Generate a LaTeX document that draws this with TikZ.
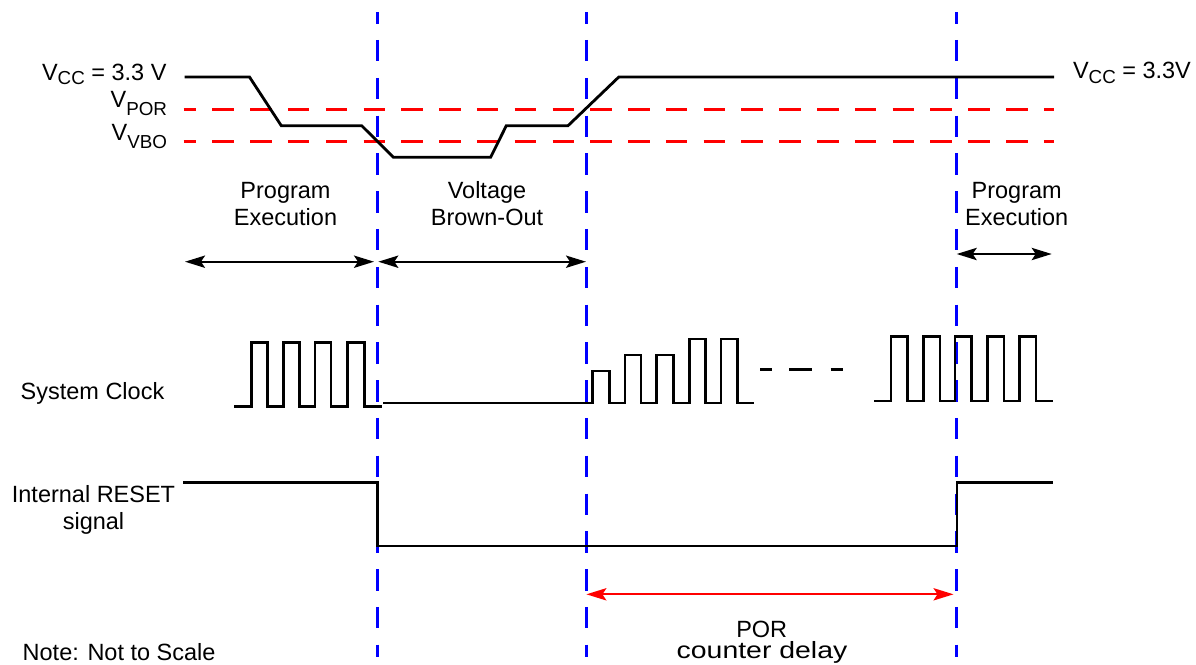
\documentclass[tikz,border=0pt]{standalone}
\usepackage{fontspec}
\setmainfont{Liberation Sans}
\usetikzlibrary{arrows.meta}
\newcommand{\sbs}[2]{\raisebox{-#2}{\fontsize{10.7}{12}\selectfont #1}}
\begin{document}
\begin{tikzpicture}[x=0.02cm,y=-0.02cm,
  every node/.style={inner sep=0pt, outer sep=0pt, font=\fontsize{13.37}{15.2}\selectfont},
  sig/.style={line width=1.6pt, line join=miter},
  guide/.style={blue, line width=1.71pt, dash pattern=on 12.23pt off 9.28pt, dash phase=5.58pt},
  level/.style={red, line width=1.71pt, dash pattern=on 12.23pt off 9.28pt, dash phase=5.18pt},
  span/.style={line width=1.14pt, {Stealth[length=11.4pt,width=7pt,inset=2.3pt]}-{Stealth[length=11.4pt,width=7pt,inset=2.3pt]}},
  lbl/.style={align=center}
]
\useasboundingbox (0,0) rectangle (1196,664);

% guide lines
\coordinate (g1t) at (377,12);   \coordinate (g1b) at (377,657);
\coordinate (g2t) at (586.4,12); \coordinate (g2b) at (586.4,657);
\coordinate (g3t) at (956.5,12); \coordinate (g3b) at (956.5,657);
\draw[guide] (g1t) -- (g1b);
\draw[guide] (g2t) -- (g2b);
\draw[guide] (g3t) -- (g3b);

% threshold levels
\coordinate (porL) at (183.7,109.3); \coordinate (porR) at (1054,109.3);
\coordinate (vboL) at (183.7,141);   \coordinate (vboR) at (1054,141);
\draw[level] (porL) -- (porR);
\draw[level] (vboL) -- (vboR);

% supply voltage
\draw[sig] (184.5,77) -- (249.5,77) -- (281.3,125.7) -- (361.7,125.7) -- (393.4,157.3)
  -- (490.6,157.3) -- (506.3,125.7) -- (568,125.7) -- (618.8,77) -- (1054,77);

% labels of levels
\node[anchor=base east] (vccl) at (166.5,80) {V\sbs{CC}{2.3pt} = 3.3 V};
\node[anchor=base east] (vporl) at (167,107.3) {V\sbs{POR}{4.6pt}};
\node[anchor=base east] (vvbol) at (167,140) {V\sbs{VBO}{4.6pt}};
\node[anchor=base west] (vccr) at (1073,78.3) {V\sbs{CC}{2.85pt} = 3.3V};

% phase labels
\node[lbl] (pe1) at (285.5,203.7) {Program\\Execution};
\node[lbl] (vbo) at (487,203.7) {Voltage\\Brown-Out};
\node[lbl] (pe2) at (1016.7,203.7) {Program\\Execution};

% phase spans
\coordinate (s1a) at (185,261.7);   \coordinate (s1b) at (374,261.7);
\coordinate (s2a) at (378.3,261.7); \coordinate (s2b) at (586,261.7);
\coordinate (s3a) at (956.7,254);   \coordinate (s3b) at (1051.7,254);
\draw[span] (s1a) -- (s1b);
\draw[span] (s2a) -- (s2b);
\draw[span] (s3a) -- (s3b);

% system clock
\node[anchor=base] (clk) at (92.5,399.5) {System Clock};
\draw[sig] (234,406.7) -- (251.7,406.7) -- (251.7,342.3) -- (267.7,342.3) -- (267.7,406.7)
  -- (283.3,406.7) -- (283.3,342.3) -- (299.3,342.3) -- (299.3,406.7)
  -- (315,406.7) -- (315,342.3) -- (331,342.3) -- (331,406.7)
  -- (347.3,406.7) -- (347.3,342.3) -- (364.3,342.3) -- (364.3,406.7) -- (381.7,406.7);
\draw[sig] (383.3,403) -- (592.7,403) -- (592.7,371) -- (609.3,371) -- (609.3,403)
  -- (625,403) -- (625,355) -- (641,355) -- (641,403)
  -- (656.7,403) -- (656.7,355) -- (673.3,355) -- (673.3,403)
  -- (689.3,403) -- (689.3,339) -- (705.7,339) -- (705.7,403)
  -- (721,403) -- (721,339) -- (737.7,339) -- (737.7,403) -- (754.3,403);
\draw[sig] (760,369.3) -- (771.7,369.3);
\draw[sig] (789.3,369.3) -- (812.3,369.3);
\draw[sig] (830.7,369.3) -- (842.7,369.3);
\draw[sig] (874.3,401) -- (891,401) -- (891,336.7) -- (907.7,336.7) -- (907.7,401)
  -- (923.3,401) -- (923.3,336.7) -- (940,336.7) -- (940,401)
  -- (955,401) -- (955,336.7) -- (971.7,336.7) -- (971.7,401)
  -- (987.3,401) -- (987.3,336.7) -- (1004,336.7) -- (1004,401)
  -- (1019.3,401) -- (1019.3,336.7) -- (1036,336.7) -- (1036,401) -- (1053.3,401);

% internal reset
\node[lbl] (rst) at (93.5,510) {Internal RESET\\signal};
\draw[sig] (183.3,482.3) -- (377.7,482.3) -- (377.7,546) -- (957,546) -- (957,482.3) -- (1053,482.3);

% POR counter delay
\coordinate (d1) at (586.4,594.3); \coordinate (d2) at (953.5,594.3);
\draw[span, red] (d1) -- (d2);
\node[anchor=base] (por) at (761.7,637.5) {POR};
\node[anchor=base] (cdel) at (762,658.5) {\scalebox{1.21}[1]{counter delay}};

% note
\node[anchor=base west] (note) at (22.7,660) {Note: Not to Scale};
\end{tikzpicture}
\end{document}
